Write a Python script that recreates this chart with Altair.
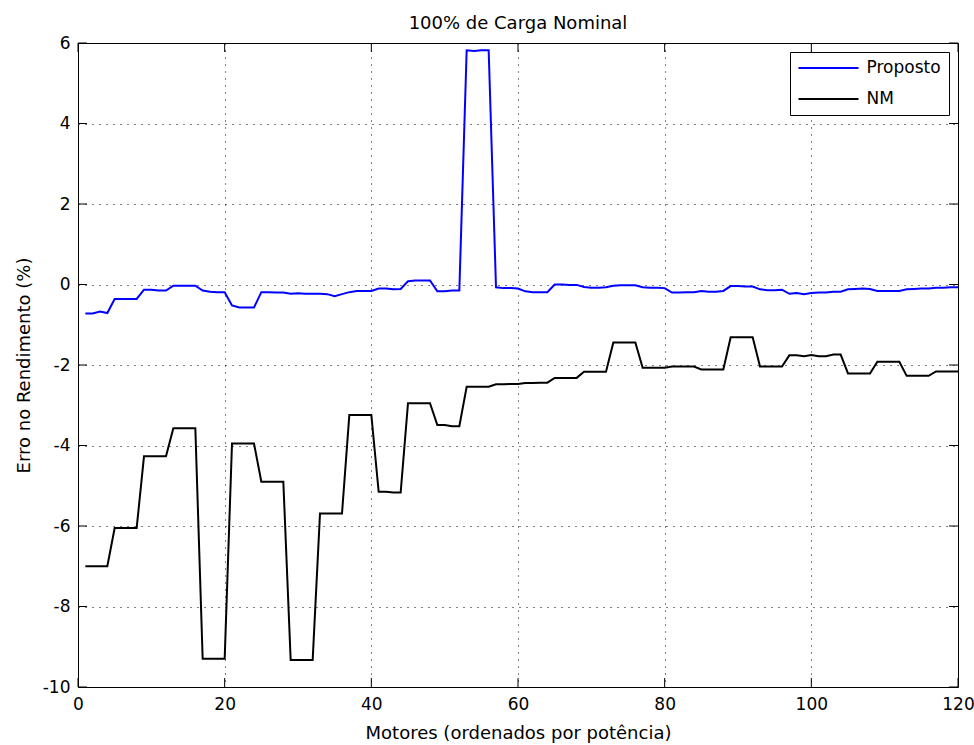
import altair as alt
import pandas as pd

# ---- data ----
motors = list(range(1, 121))

proposto = [
    -0.72, -0.72, -0.67, -0.71, -0.36, -0.36, -0.36, -0.36, -0.13, -0.13,
    -0.15, -0.15, -0.03, -0.03, -0.03, -0.03, -0.15, -0.18, -0.19, -0.19,
    -0.52, -0.57, -0.57, -0.57, -0.19, -0.19, -0.20, -0.20, -0.23, -0.22,
    -0.23, -0.23, -0.23, -0.24, -0.29, -0.24, -0.19, -0.16, -0.16, -0.16,
    -0.10, -0.10, -0.12, -0.11, 0.08, 0.10, 0.10, 0.10, -0.17, -0.17,
    -0.15, -0.15, 5.82, 5.80, 5.82, 5.82, -0.07, -0.09, -0.09, -0.10,
    -0.17, -0.19, -0.19, -0.19, 0.00, 0.00, -0.01, -0.01, -0.06, -0.08,
    -0.08, -0.07, -0.03, -0.02, -0.02, -0.02, -0.07, -0.08, -0.08, -0.09,
    -0.20, -0.20, -0.19, -0.19, -0.16, -0.18, -0.18, -0.16, -0.04, -0.04,
    -0.05, -0.05, -0.12, -0.14, -0.14, -0.13, -0.23, -0.21, -0.24, -0.21,
    -0.20, -0.20, -0.18, -0.18, -0.12, -0.11, -0.10, -0.11, -0.16, -0.16,
    -0.16, -0.16, -0.12, -0.11, -0.10, -0.10, -0.08, -0.08, -0.07, -0.07,
]

nm = [
    -7.00, -7.00, -7.00, -7.00, -6.05, -6.05, -6.05, -6.05, -4.27, -4.27,
    -4.27, -4.27, -3.57, -3.57, -3.57, -3.57, -9.30, -9.30, -9.30, -9.30,
    -3.95, -3.95, -3.95, -3.95, -4.90, -4.90, -4.90, -4.90, -9.33, -9.33,
    -9.33, -9.33, -5.69, -5.69, -5.69, -5.69, -3.24, -3.24, -3.24, -3.24,
    -5.15, -5.15, -5.17, -5.17, -2.95, -2.95, -2.95, -2.95, -3.49, -3.49,
    -3.52, -3.52, -2.54, -2.54, -2.54, -2.54, -2.48, -2.48, -2.47, -2.47,
    -2.45, -2.45, -2.44, -2.44, -2.32, -2.32, -2.32, -2.32, -2.17, -2.17,
    -2.17, -2.17, -1.44, -1.44, -1.44, -1.44, -2.07, -2.07, -2.07, -2.07,
    -2.04, -2.04, -2.04, -2.04, -2.11, -2.11, -2.11, -2.11, -1.31, -1.31,
    -1.31, -1.31, -2.04, -2.04, -2.04, -2.04, -1.76, -1.76, -1.78, -1.75,
    -1.78, -1.78, -1.74, -1.74, -2.21, -2.21, -2.21, -2.21, -1.92, -1.92,
    -1.92, -1.92, -2.27, -2.27, -2.27, -2.27, -2.16, -2.16, -2.16, -2.16,
]

series_names = ["Proposto", "NM"]
series_colors = ["#0000ff", "#000000"]
x_ticks = [0, 20, 40, 60, 80, 100, 120]
y_ticks = [-10, -8, -6, -4, -2, 0, 2, 4, 6]

df = pd.DataFrame({
    "x": motors * 2,
    "y": proposto + nm,
    "serie": ["Proposto"] * len(motors) + ["NM"] * len(motors),
})

W, H = 880, 644
FONT = "DejaVu Sans"
TICK = 9

xscale = alt.Scale(domain=[0, 120], nice=False, zero=False)
yscale = alt.Scale(domain=[-10, 6], nice=False, zero=False)

xaxis = alt.Axis(values=x_ticks, title="Motores (ordenados por potência)",
                 grid=True, ticks=False, domain=False, labelFlush=False,
                 labelExpr="'' + datum.value",
                 labelPadding=9, titlePadding=12)
yaxis = alt.Axis(values=y_ticks, title="Erro no Rendimento (%)",
                 grid=True, ticks=False, domain=False, labelFlush=False,
                 labelExpr="'' + datum.value",
                 labelPadding=8, titlePadding=9)

XENC = alt.X("x:Q", scale=xscale, axis=xaxis, title="Motores (ordenados por potência)")
YENC = alt.Y("y:Q", scale=yscale, axis=yaxis, title="Erro no Rendimento (%)")

lines = alt.Chart(df).mark_line(strokeWidth=2).encode(
    x=XENC,
    y=YENC,
    color=alt.Color("serie:N",
                    scale=alt.Scale(domain=series_names, range=series_colors),
                    sort=series_names,
                    legend=alt.Legend(title=None, orient="top-right", offset=9,
                                      padding=7.5, strokeColor="black",
                                      fillColor="white", cornerRadius=0,
                                      symbolType="stroke", symbolSize=3600,
                                      symbolStrokeWidth=2, clipHeight=17,
                                      rowPadding=13, labelFontSize=17,
                                      labelFont=FONT, labelOffset=7,
                                      labelColor="black")),
)

xt = pd.DataFrame({"x": x_ticks})
yt = pd.DataFrame({"y": y_ticks})

xt_bottom = alt.Chart(xt).mark_rule(color="black", strokeWidth=1).encode(
    x=XENC, y=alt.value(H), y2=alt.value(H - TICK))
xt_top = alt.Chart(xt).mark_rule(color="black", strokeWidth=1).encode(
    x=XENC, y=alt.value(0), y2=alt.value(TICK))
yt_left = alt.Chart(yt).mark_rule(color="black", strokeWidth=1).encode(
    y=YENC, x=alt.value(0), x2=alt.value(TICK))
yt_right = alt.Chart(yt).mark_rule(color="black", strokeWidth=1).encode(
    y=YENC, x=alt.value(W), x2=alt.value(W - TICK))

chart = alt.layer(lines, xt_bottom, xt_top, yt_left, yt_right).properties(
    width=W, height=H,
    background="white",
    title=alt.TitleParams("100% de Carga Nominal", font=FONT, fontSize=18,
                          fontWeight="normal", color="black", anchor="middle",
                          frame="group", baseline="alphabetic", offset=15, dy=28),
    padding={"left": 78, "top": 43, "right": 16, "bottom": 58},
    autosize=alt.AutoSizeParams(type="none"),
).configure_view(
    stroke="black", strokeWidth=1
).configure_axis(
    labelFont=FONT, labelFontSize=17, labelColor="black",
    titleFont=FONT, titleFontSize=18, titleColor="black", titleFontWeight="normal",
    gridColor="black", gridDash=[1, 6], gridWidth=1, gridOpacity=1,
)

chart.save("out.html", embed_options={"renderer": "svg", "actions": False})
